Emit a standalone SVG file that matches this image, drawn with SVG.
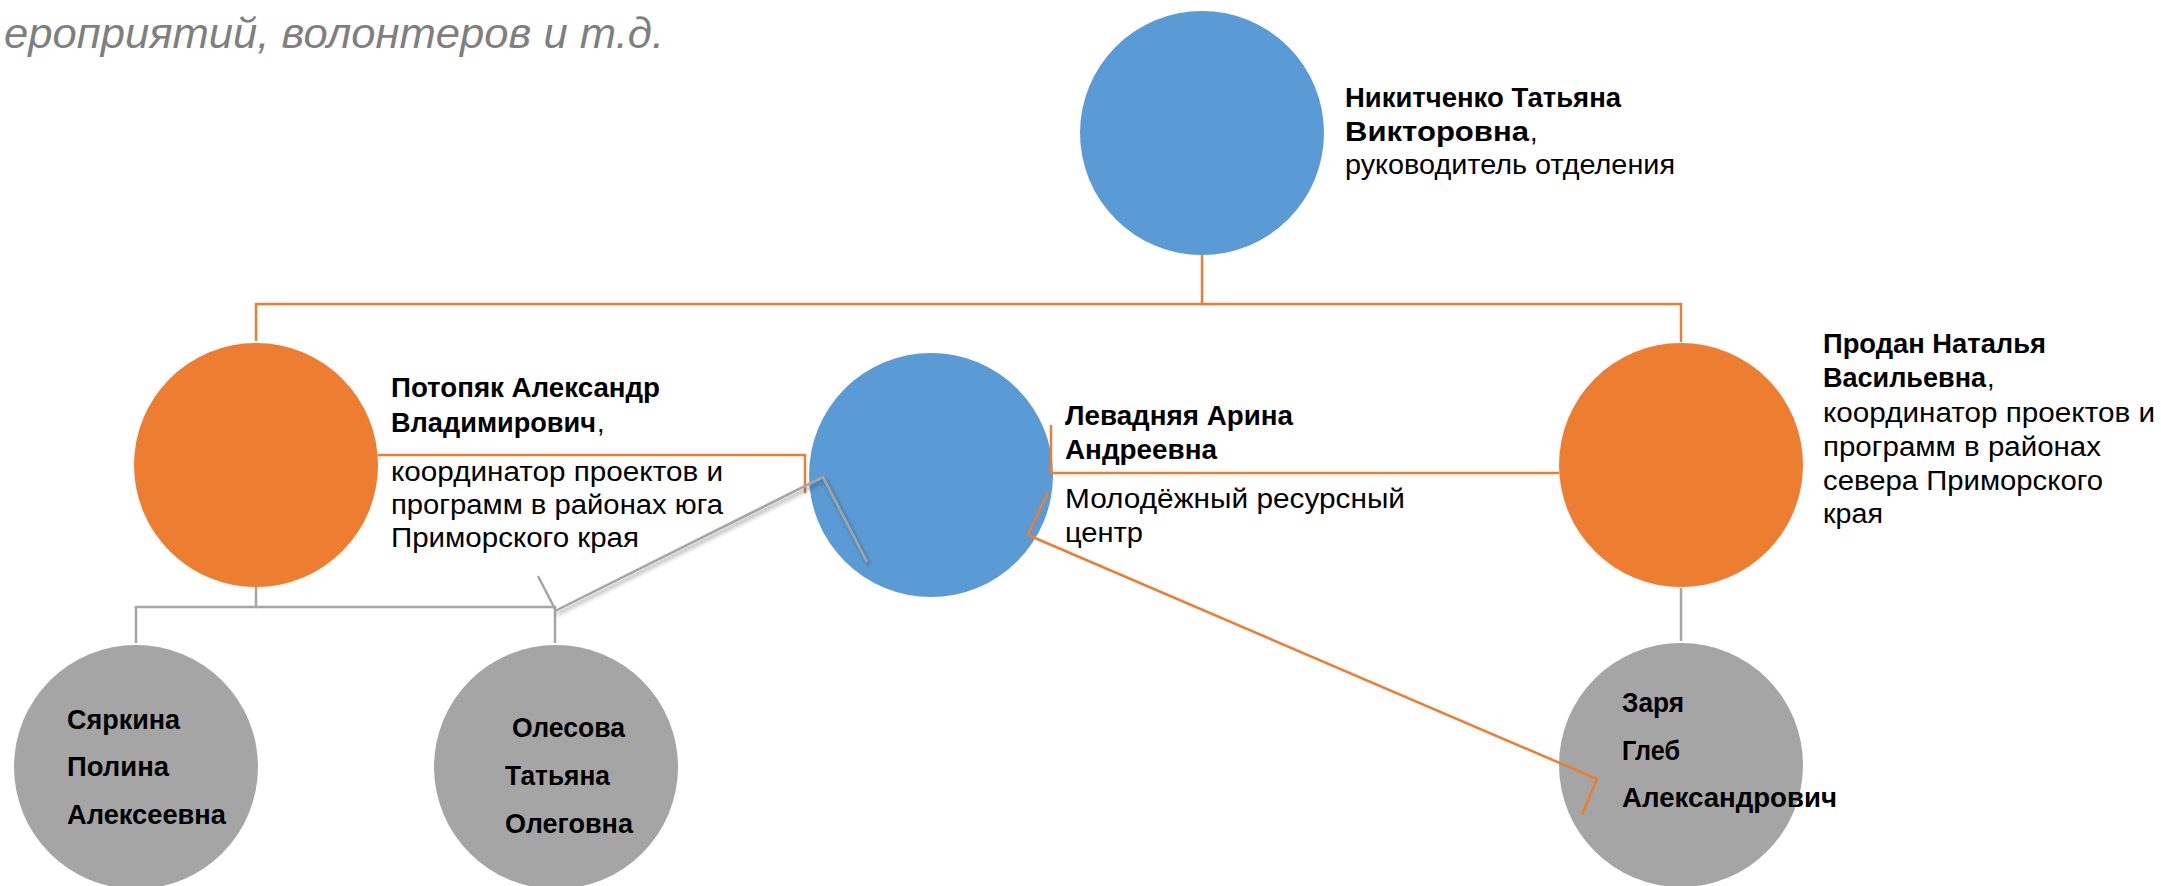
<svg xmlns="http://www.w3.org/2000/svg" width="2161" height="886" viewBox="0 0 2161 886">
<style>
text{font-family:"Liberation Sans","Noto Sans",Arial,sans-serif;font-size:27px;fill:#000}
.b{font-weight:bold}
.n{font-size:28px;font-weight:bold}
.blue{fill:#5B9BD5}
.orange{fill:#ED7D31}
.gray{fill:#A5A5A5}
.co{fill:none;stroke:#ED7D31;stroke-width:2.5}
.cg{fill:none;stroke:#A5A5A5;stroke-width:2.5}
.head{font-style:italic;fill:#7F7F7F;font-size:43px}
</style>
<defs>
<filter id="sh" x="-10%" y="-10%" width="130%" height="130%">
<feDropShadow dx="2" dy="3" stdDeviation="2" flood-color="#000" flood-opacity="0.4"/>
</filter>
</defs>
<rect width="2161" height="886" fill="#fff"/>
<text class="head" x="4" y="48" textLength="660" lengthAdjust="spacingAndGlyphs">ероприятий, волонтеров и т.д.</text>

<g id="node-nikitchenko">
<circle class="blue" cx="1202" cy="133" r="122"/>
<text class="b" x="1345" y="107" textLength="276" lengthAdjust="spacingAndGlyphs">Никитченко Татьяна</text>
<text class="b" x="1345" y="141" textLength="184" lengthAdjust="spacingAndGlyphs">Викторовна</text>
<text x="1530" y="141">,</text>
<text x="1345" y="174" textLength="330" lengthAdjust="spacingAndGlyphs">руководитель отделения</text>
</g>

<g id="node-potopyak">
<circle class="orange" cx="256" cy="465" r="122"/>
<text class="b" x="391" y="397" textLength="269" lengthAdjust="spacingAndGlyphs">Потопяк Александр</text>
<text class="b" x="391" y="432" textLength="205" lengthAdjust="spacingAndGlyphs">Владимирович</text>
<text x="597" y="432">,</text>
<text x="391" y="481" textLength="332" lengthAdjust="spacingAndGlyphs">координатор проектов и</text>
<text x="391" y="514" textLength="332" lengthAdjust="spacingAndGlyphs">программ в районах юга</text>
<text x="391" y="547" textLength="248" lengthAdjust="spacingAndGlyphs">Приморского края</text>
</g>

<g id="node-levadnyaya">
<circle class="blue" cx="931" cy="475" r="122"/>
<text class="b" x="1065" y="425" textLength="228" lengthAdjust="spacingAndGlyphs">Левадняя Арина</text>
<text class="b" x="1065" y="459" textLength="152" lengthAdjust="spacingAndGlyphs">Андреевна</text>
<text x="1065" y="508" textLength="340" lengthAdjust="spacingAndGlyphs">Молодёжный ресурсный</text>
<text x="1065" y="542" textLength="78" lengthAdjust="spacingAndGlyphs">центр</text>
</g>

<g id="node-prodan">
<circle class="orange" cx="1681" cy="465" r="122"/>
<text class="b" x="1823" y="353" textLength="223" lengthAdjust="spacingAndGlyphs">Продан Наталья</text>
<text class="b" x="1823" y="387" textLength="163" lengthAdjust="spacingAndGlyphs">Васильевна</text>
<text x="1987" y="387">,</text>
<text x="1823" y="422" textLength="332" lengthAdjust="spacingAndGlyphs">координатор проектов и</text>
<text x="1823" y="456" textLength="278" lengthAdjust="spacingAndGlyphs">программ в районах</text>
<text x="1823" y="490" textLength="280" lengthAdjust="spacingAndGlyphs">севера Приморского</text>
<text x="1823" y="523" textLength="60" lengthAdjust="spacingAndGlyphs">края</text>
</g>

<g id="node-syarkina">
<circle class="gray" cx="136" cy="767" r="122"/>
<text class="n" x="67" y="729" textLength="113" lengthAdjust="spacingAndGlyphs">Сяркина</text>
<text class="n" x="67" y="776" textLength="102" lengthAdjust="spacingAndGlyphs">Полина</text>
<text class="n" x="67" y="824" textLength="159" lengthAdjust="spacingAndGlyphs">Алексеевна</text>
</g>

<g id="node-olesova">
<circle class="gray" cx="556" cy="767" r="122"/>
<text class="n" x="512" y="737" textLength="113" lengthAdjust="spacingAndGlyphs">Олесова</text>
<text class="n" x="505" y="785" textLength="105" lengthAdjust="spacingAndGlyphs">Татьяна</text>
<text class="n" x="505" y="833" textLength="128" lengthAdjust="spacingAndGlyphs">Олеговна</text>
</g>

<g id="node-zarya">
<circle class="gray" cx="1681" cy="765" r="122"/>
<text class="n" x="1622" y="712" textLength="62" lengthAdjust="spacingAndGlyphs">Заря</text>
<text class="n" x="1622" y="760" textLength="58" lengthAdjust="spacingAndGlyphs">Глеб</text>
<text class="n" x="1622" y="807" textLength="215" lengthAdjust="spacingAndGlyphs">Александрович</text>
</g>

<g id="connectors">
<path class="co" d="M1202 255 V304 H256 V341"/>
<path class="co" d="M1202 304 H1681 V342"/>
<path class="co" d="M378 455 H805 V493"/>
<path class="co" d="M1051 425 V473 H1559"/>
<path class="co" d="M1048 492 L1028 535 L1597 779 L1582 815"/>
<path class="cg" d="M256 587 V607 H136 V643"/>
<path class="cg" d="M256 607 H555 V643"/>
<path class="cg" d="M1681 588 V641"/>
<path class="cg" stroke-width="2" d="M538 576 L555 609"/>
<path class="cg" stroke-width="4" filter="url(#sh)" d="M555 611 L823 477 L867 562"/>
</g>
</svg>
